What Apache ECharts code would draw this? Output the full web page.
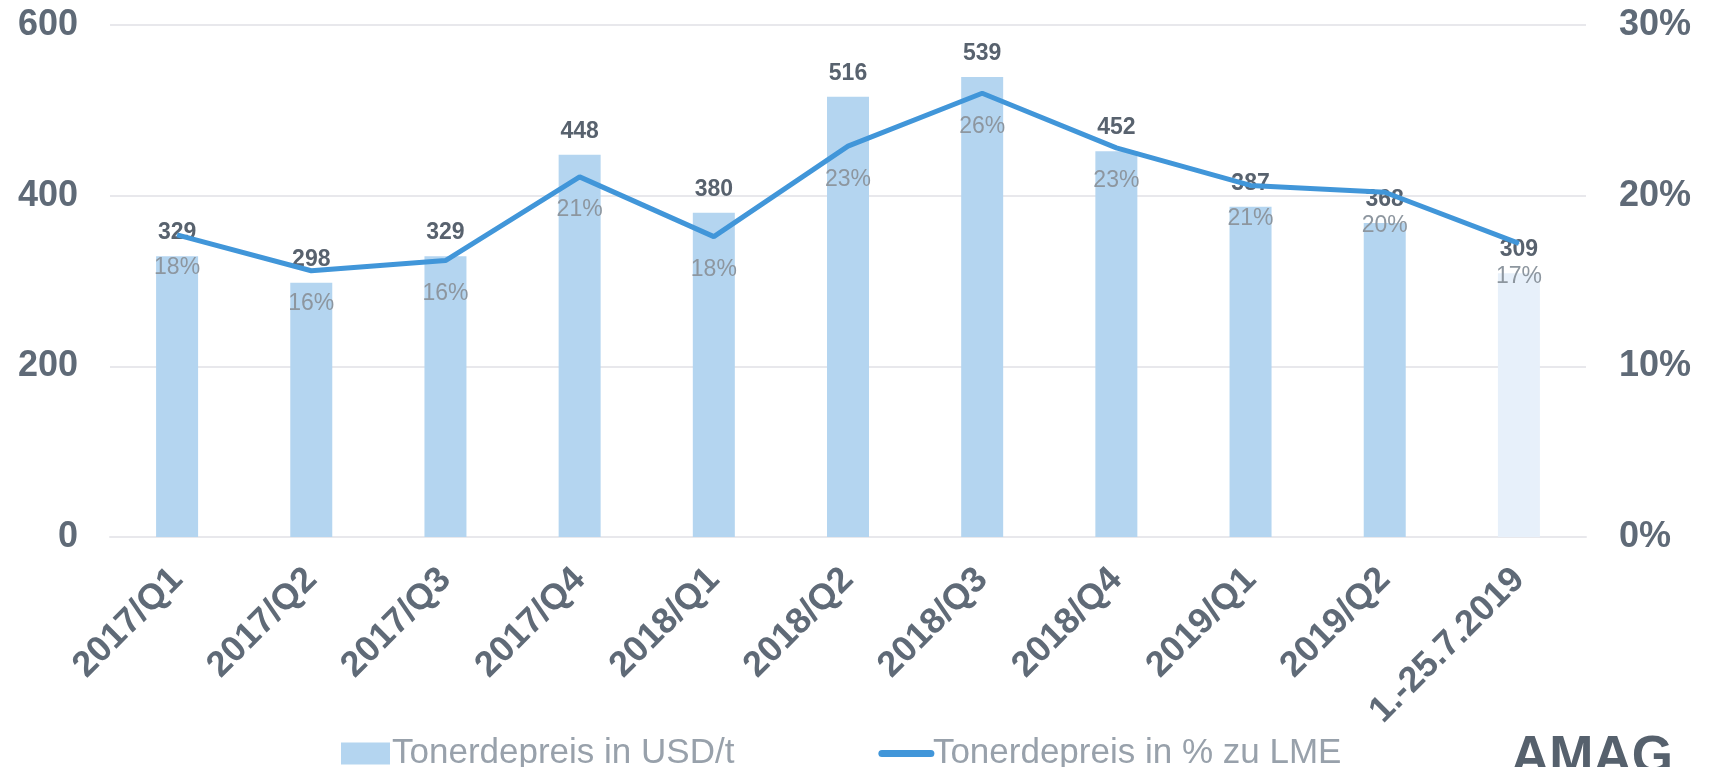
<!DOCTYPE html>
<html>
<head>
<meta charset="utf-8">
<style>
  html, body { margin: 0; padding: 0; background: #fff; }
  #chart { width: 1710px; height: 767px; }
</style>
<script src="https://cdn.jsdelivr.net/npm/echarts@6.0.0/dist/echarts.min.js"></script>
</head>
<body>
<div id="chart"></div>
<script>
  // data
  const categories = ['2017/Q1', '2017/Q2', '2017/Q3', '2017/Q4', '2018/Q1', '2018/Q2',
    '2018/Q3', '2018/Q4', '2019/Q1', '2019/Q2', '1.-25.7.2019'];
  const priceUsd = [329, 298, 329, 448, 380, 516, 539, 452, 387, 368, 309];
  const pctOfLme = [17.7, 15.6, 16.2, 21.1, 17.6, 22.9, 26.0, 22.8, 20.6, 20.2, 17.2];
  const leftTicks = { min: 0, max: 600, interval: 200 };
  const rightTicks = { min: 0, max: 30, interval: 10 };

  const FONT = 'Liberation Sans, Arial, sans-serif';
  const AXIS_GREY = '#5f6a77';
  const BAR_BLUE = '#b4d5f0';
  const BAR_LAST = '#e7f0fa';
  const LINE_BLUE = '#4196d9';

  const chart = echarts.init(document.getElementById('chart'));

  const barData = priceUsd.map((v, i) =>
    i === priceUsd.length - 1 ? { value: v, itemStyle: { color: BAR_LAST } } : v
  );

  chart.setOption({
    animation: false,
    textStyle: { fontFamily: FONT },
    grid: { left: 110, right: 124, top: 25, height: 512 },
    xAxis: {
      type: 'category',
      data: categories,
      axisTick: { show: false },
      axisLine: { lineStyle: { color: '#e8e8ec', width: 2 } },
      axisLabel: {
        rotate: 45,
        margin: 37,
        interval: 0,
        color: AXIS_GREY,
        fontWeight: 'bold',
        fontSize: 36,
        fontFamily: FONT
      }
    },
    yAxis: [
      {
        type: 'value',
        min: leftTicks.min,
        max: leftTicks.max,
        interval: leftTicks.interval,
        axisLine: { show: false },
        axisTick: { show: false },
        splitLine: { lineStyle: { color: '#e8e8ec', width: 2 } },
        axisLabel: { color: AXIS_GREY, fontWeight: 'bold', fontSize: 36, margin: 32, fontFamily: FONT }
      },
      {
        type: 'value',
        min: rightTicks.min,
        max: rightTicks.max,
        interval: rightTicks.interval,
        axisLine: { show: false },
        axisTick: { show: false },
        splitLine: { show: false },
        axisLabel: {
          color: AXIS_GREY, fontWeight: 'bold', fontSize: 36, margin: 33, fontFamily: FONT,
          formatter: '{value}%'
        }
      }
    ],
    legend: {
      top: 731,
      left: 336,
      itemWidth: 49,
      itemHeight: 22,
      itemGap: 144,
      textStyle: { color: '#98a1ab', fontSize: 35, fontFamily: FONT, padding: [0, 0, 0, -3] },
      data: [
        { name: 'Tonerdepreis in USD/t', icon: 'rect' },
        {
          name: 'Tonerdepreis in % zu LME',
          lineStyle: { width: 7, cap: 'round' },
          itemStyle: { color: 'rgba(0,0,0,0)', borderWidth: 0, opacity: 0 }
        }
      ]
    },
    graphic: [
      {
        type: 'text',
        left: 1511,
        top: 732,
        style: { text: 'AMAG', fill: '#56616d', font: 'bold 53px ' + FONT }
      }
    ],
    series: [
      {
        name: 'Tonerdepreis in USD/t',
        type: 'bar',
        barWidth: 42,
        data: barData,
        itemStyle: { color: BAR_BLUE },
        label: {
          show: true,
          position: 'top',
          distance: 12,
          color: '#58626e',
          fontWeight: 'bold',
          fontSize: 23,
          fontFamily: FONT
        }
      },
      {
        name: 'Tonerdepreis in % zu LME',
        type: 'line',
        yAxisIndex: 1,
        data: pctOfLme,
        symbol: 'circle',
        symbolSize: 1,
        lineStyle: { color: LINE_BLUE, width: 5 },
        itemStyle: { color: LINE_BLUE },
        label: {
          show: true,
          position: 'bottom',
          distance: 21,
          color: '#8d969f',
          fontSize: 23,
          fontFamily: FONT,
          formatter: p => Math.round(p.value) + '%'
        }
      }
    ]
  });
</script>
</body>
</html>
